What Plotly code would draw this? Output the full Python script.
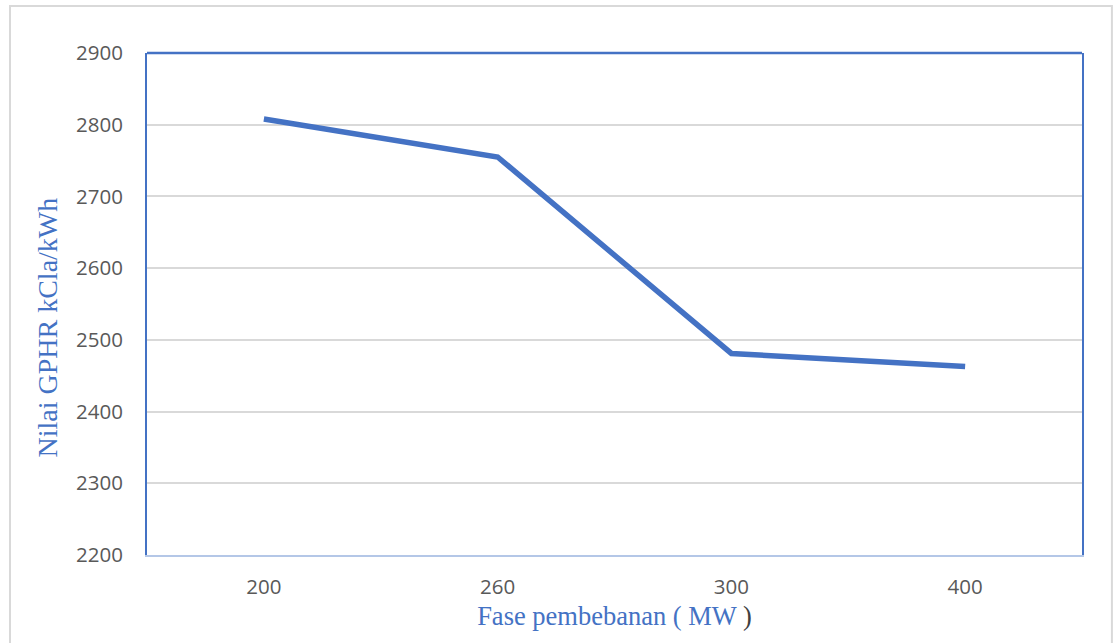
import plotly.graph_objects as go

categories = ["200", "260", "300", "400"]
gphr_values = [2808, 2755, 2481, 2463]
y_ticks = [2200, 2300, 2400, 2500, 2600, 2700, 2800, 2900]

BLUE = "#4472C4"
TICK_FONT = dict(family="Open Sans", size=20.5, color="#595959")

fig = go.Figure()
fig.add_trace(go.Scatter(
    x=categories, y=gphr_values, mode="lines",
    line=dict(color=BLUE, width=5.5), hoverinfo="x+y", showlegend=False,
))

fig.update_layout(
    width=1113, height=643,
    margin=dict(l=147, r=31, t=53, b=88),
    paper_bgcolor="white", plot_bgcolor="white",
    xaxis=dict(
        type="category", range=[-0.5, 3.5],
        showline=True, linecolor="#B4C7E7", linewidth=2,
        showgrid=False, zeroline=False,
        ticks="outside", ticklen=12, tickcolor="rgba(0,0,0,0)",
        tickfont=TICK_FONT,
        title=dict(text='Fase pembebanan ( MW <span style="color:#404040">)</span>',
                   font=dict(family="Liberation Serif", size=26.5, color=BLUE), standoff=8),
    ),
    yaxis=dict(
        range=[2200, 2900], tickvals=y_ticks,
        showline=True, linecolor=BLUE, linewidth=2, mirror=True,
        showgrid=True, gridcolor="#D9D9D9", gridwidth=2,
        zeroline=False,
        ticks="outside", ticklen=18, tickcolor="rgba(0,0,0,0)",
        tickfont=TICK_FONT,
    ),
    annotations=[
        dict(text="Nilai GPHR kCla/kWh", textangle=-90, showarrow=False,
             xref="paper", yref="paper", x=-0.1059, y=0.4532,
             xanchor="center", yanchor="middle",
             font=dict(family="Liberation Serif", size=28, color=BLUE)),
    ],
    shapes=[
        dict(type="line", xref="paper", yref="paper", x0=0, x1=1, y0=1, y1=1,
             line=dict(color=BLUE, width=2.5)),
        dict(type="rect", xref="paper", yref="paper",
             x0=-0.1465, x1=1.032, y0=-0.19, y1=1.0936,
             line=dict(color="#D9D9D9", width=2), layer="below"),
    ],
)

fig.write_html("out.html", config={"displayModeBar": False},
               post_script="document.body.style.margin='0';")
